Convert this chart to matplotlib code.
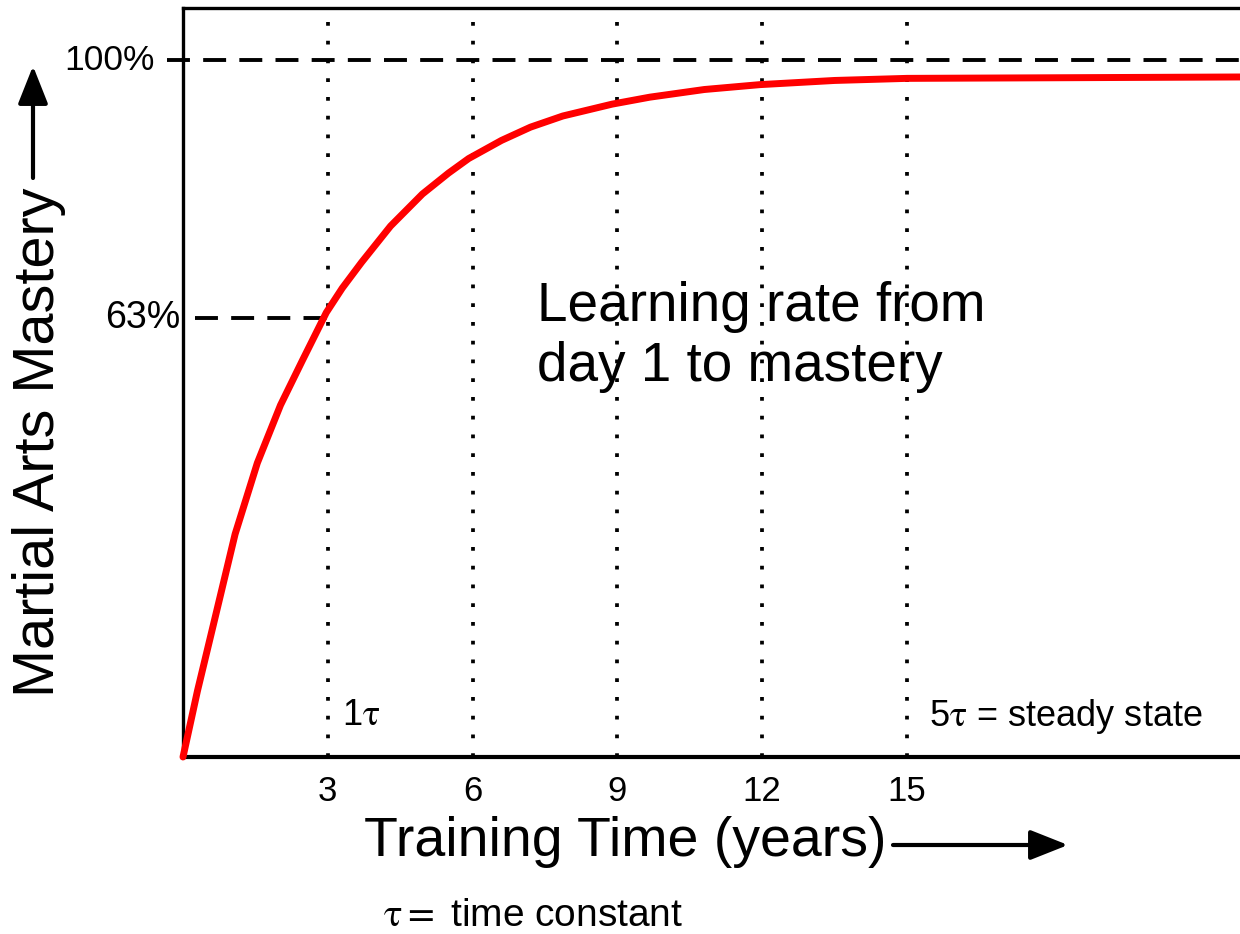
import matplotlib
matplotlib.use('Agg')
import matplotlib.pyplot as plt

plt.rcParams['font.family'] = ['Liberation Sans', 'DejaVu Sans']
plt.rcParams['mathtext.fontset'] = 'stix'

# ---- data ----
years = [0, 0.3, 0.63, 1.08, 1.54, 2.02, 2.48, 2.97, 3.3, 3.7, 4.3, 4.96,
         5.5, 5.92, 6.6, 7.2, 7.87, 8.89, 9.67, 10.8, 11.95, 13.5, 15.0,
         18.5, 21.9]
mastery = [0, 9.5, 19.0, 32.0, 42.2, 50.5, 57.0, 63.8, 67.3, 71.0, 76.2, 80.8,
           83.8, 85.9, 88.5, 90.4, 92.0, 93.7, 94.7, 95.8, 96.5, 97.1, 97.4,
           97.5, 97.6]
tick_years = [3, 6, 9, 12, 15]
tick_labels = ['3', '6', '9', '12', '15']
level_pct = [63, 100]
level_labels = ['63%', '100%']

W, H = 1240, 934
fig = plt.figure(figsize=(W / 100, H / 100), dpi=100)
ax = fig.add_axes([183 / W, (H - 757) / H, 1 - 183 / W, (757 - 8) / H])
ax.set_xlim(0, 21.9)
ax.set_ylim(0, 107.5)

for s in ['left', 'top']:
    ax.spines[s].set_linewidth(2.4)
ax.spines['bottom'].set_linewidth(3.0)
ax.spines['right'].set_visible(False)

# dotted verticals at each tau multiple
for x in tick_years:
    ax.axvline(x, color='black', lw=2.7, linestyle=(0, (1, 4.0)),
               dash_capstyle='butt', zorder=1)

# dashed level lines
ax.plot([-0.33, 21.9], [level_pct[1]] * 2, color='black', lw=2.8,
        linestyle=(0, (5.9, 3.4)), clip_on=False, zorder=2)
ax.plot([0.25, 3.0], [level_pct[0]] * 2, color='black', lw=2.8,
        linestyle=(0, (5.9, 3.4)), clip_on=False, zorder=2)

# response curve
ax.plot(years, mastery, color='#ff0000', lw=5, solid_capstyle='round',
        solid_joinstyle='round', clip_on=False, zorder=3)

ax.set_xticks(tick_years, tick_labels)
ax.tick_params(axis='x', length=0, pad=13, labelsize=25)
ax.set_yticks([])

ax.text(-0.58, level_pct[1], level_labels[1], ha='right', va='center',
        fontsize=25.5, clip_on=False)
ax.text(-0.06, level_pct[0], level_labels[0], ha='right', va='center',
        fontsize=27, clip_on=False)

ax.text(3.3, 6.0, '1$\\mathrm{\\tau}$', ha='left', va='center', fontsize=26)
ax.text(15.45, 5.8, '5$\\mathrm{\\tau}$ = steady state', ha='left',
        va='center', fontsize=26)

ax.text(7.33, 53.9, 'Learning rate from\nday 1 to mastery', ha='left',
        va='baseline', fontsize=39.5)

fig.text(625 / W, 1 - 842 / H, 'Training Time (years)', ha='center',
         va='center', fontsize=40)
fig.text(39 / W, 1 - 442 / H, 'Martial Arts Mastery', ha='center',
         va='center', rotation=90, fontsize=41.5)
fig.text(383 / W, 1 - 916 / H, '$\\mathrm{\\tau} =$ time constant',
         ha='left', va='center', fontsize=28)

arrow = dict(arrowstyle='-|>,head_length=0.58,head_width=0.23', lw=3,
             color='black', mutation_scale=40, shrinkA=0, shrinkB=0)
ax.annotate('', xy=(1068 / W, 1 - 845 / H), xytext=(893 / W, 1 - 845 / H),
            xycoords='figure fraction', textcoords='figure fraction',
            arrowprops=arrow, annotation_clip=False)
ax.annotate('', xy=(33 / W, 1 - 66 / H), xytext=(33 / W, 1 - 178 / H),
            xycoords='figure fraction', textcoords='figure fraction',
            arrowprops=arrow, annotation_clip=False)

fig.savefig('out.png', dpi=100)
